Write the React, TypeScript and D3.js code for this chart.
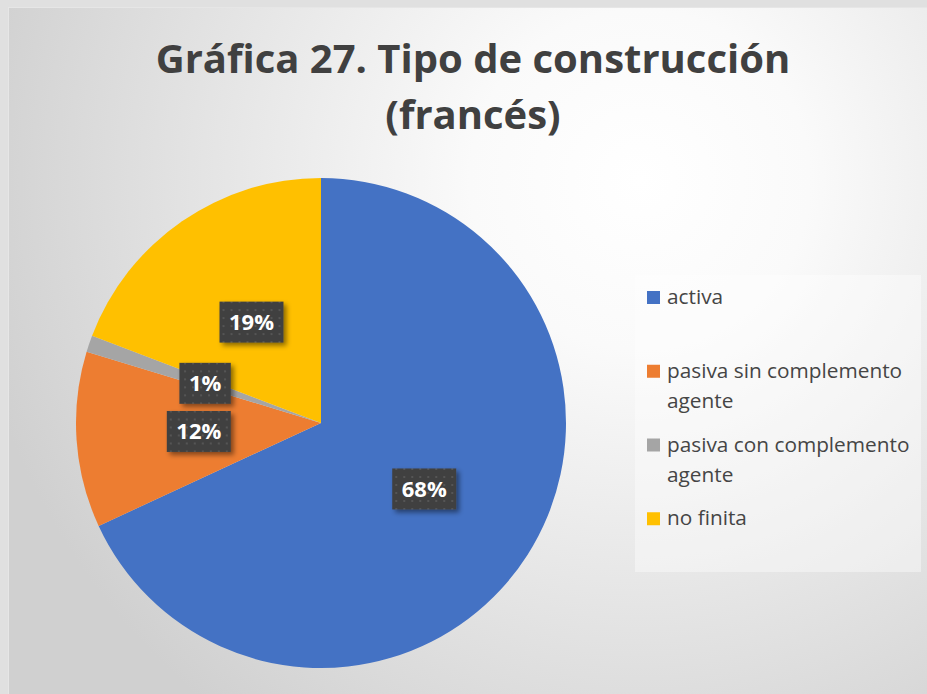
import React, { useRef, useEffect } from 'react';
import * as d3 from 'd3';

// chart data
const categories = ['activa', 'pasiva sin complemento agente', 'pasiva con complemento agente', 'no finita'];
const values = [68.1, 11.6, 1.1, 19.2];
const colors = ['#4472C4', '#ED7D31', '#A5A5A5', '#FFC000'];
const titleLines = ['Gráfica 27. Tipo de construcción', '(francés)'];

const W = 927;
const H = 694;
const FONT = '"Open Sans", "Noto Sans", sans-serif';

const App = () => {
  const svgRef = useRef<SVGSVGElement | null>(null);

  useEffect(() => {
    const svg = d3.select(svgRef.current).attr('width', W).attr('height', H);
    svg.selectAll('*').remove();

    const defs = svg.append('defs');
    const grad = defs
      .append('radialGradient')
      .attr('id', 'bg')
      .attr('gradientUnits', 'userSpaceOnUse')
      .attr('cx', 640)
      .attr('cy', 180)
      .attr('r', 680);
    grad.append('stop').attr('offset', 0).attr('stop-color', '#ffffff');
    grad.append('stop').attr('offset', 0.25).attr('stop-color', '#fafafa');
    grad.append('stop').attr('offset', 1).attr('stop-color', '#d0d0d0');

    const pat = defs
      .append('pattern')
      .attr('id', 'dots')
      .attr('patternUnits', 'userSpaceOnUse')
      .attr('width', 8)
      .attr('height', 8);
    pat.append('rect').attr('width', 8).attr('height', 8).attr('fill', '#404040');
    pat.append('rect').attr('x', 3).attr('y', 3).attr('width', 2).attr('height', 2).attr('fill', '#555555');

    const shadow = defs.append('filter').attr('id', 'shadow').attr('x', '-20%').attr('y', '-20%').attr('width', '150%').attr('height', '160%');
    shadow
      .append('feDropShadow')
      .attr('dx', 3)
      .attr('dy', 3)
      .attr('stdDeviation', 2.5)
      .attr('flood-color', '#000')
      .attr('flood-opacity', 0.45);

    // page + chart area
    svg.append('rect').attr('width', W).attr('height', H).attr('fill', '#e0e0e0');
    svg
      .append('rect')
      .attr('x', 8.5)
      .attr('y', 7.5)
      .attr('width', W)
      .attr('height', H)
      .attr('fill', 'url(#bg)')
      .attr('stroke', '#e6e6e6');

    // title
    svg
      .append('g')
      .selectAll('text')
      .data(titleLines)
      .join('text')
      .attr('x', 473)
      .attr('y', (d, i) => 73 + i * 56)
      .attr('text-anchor', 'middle')
      .attr('font-family', FONT)
      .attr('font-weight', 'bold')
      .attr('font-size', 40)
      .attr('fill', '#404040')
      .text((d) => d);

    // pie
    const cx = 321;
    const cy = 423;
    const R = 245;
    const pie = d3.pie<number>().sort(null).value((d) => d);
    const arcs = pie(values);
    const arc = d3.arc<d3.PieArcDatum<number>>().innerRadius(0).outerRadius(R);

    const g = svg.append('g').attr('transform', `translate(${cx},${cy})`);
    g.selectAll('path')
      .data(arcs)
      .join('path')
      .attr('d', arc)
      .attr('fill', (d, i) => colors[i]);

    // data labels
    const labels = g.selectAll('g.lbl').data(arcs).join('g').attr('class', 'lbl');
    labels.each(function (d) {
      const [lx, ly] = arc.centroid(d);
      const lg = d3.select(this).attr('transform', `translate(${lx},${ly})`);
      const rect = lg.append('rect').attr('fill', 'url(#dots)').attr('filter', 'url(#shadow)');
      const t = lg
        .append('text')
        .attr('text-anchor', 'middle')
        .attr('dy', '0.36em')
        .attr('font-family', FONT)
        .attr('font-weight', 'bold')
        .attr('font-size', 22)
        .attr('fill', '#ffffff')
        .text(`${Math.round(d.data)}%`);
      const tw = (t.node() as SVGTextElement).getComputedTextLength();
      const bw = tw + 19;
      const bh = 41;
      rect.attr('x', -bw / 2).attr('y', -bh / 2).attr('width', bw).attr('height', bh);
    });

    // legend
    const lx0 = 635;
    const ly0 = 275;
    svg
      .append('rect')
      .attr('x', lx0)
      .attr('y', ly0)
      .attr('width', 286)
      .attr('height', 297)
      .attr('fill', '#ffffff')
      .attr('fill-opacity', 0.4);

    const yLeg = d3.scaleBand<string>().domain(categories).range([280, 575]);
    const maxW = 248;
    const leg = svg.append('g').selectAll('g').data(categories).join('g');
    leg.each(function (d, i) {
      const item = d3.select(this);
      const y0 = (yLeg(d) ?? 0) + 24;
      item
        .append('rect')
        .attr('x', 647)
        .attr('y', y0 - 13)
        .attr('width', 13)
        .attr('height', 13)
        .attr('fill', colors[i]);
      const t = item
        .append('text')
        .attr('font-family', FONT)
        .attr('font-size', 20.8)
        .attr('fill', '#454545');
      // word wrap
      const words = d.split(' ');
      let line: string[] = [];
      let n = 0;
      let ts = t.append('tspan').attr('x', 667).attr('y', y0);
      words.forEach((w) => {
        line.push(w);
        ts.text(line.join(' '));
        if ((ts.node() as SVGTSpanElement).getComputedTextLength() > maxW && line.length > 1) {
          line.pop();
          ts.text(line.join(' '));
          line = [w];
          n += 1;
          ts = t.append('tspan').attr('x', 667).attr('y', y0 + n * 30).text(w);
        }
      });
    });
  }, []);

  return (
    <div style={{ position: 'fixed', left: 0, top: 0, width: W, height: H, overflow: 'hidden' }}>
      <svg ref={svgRef} style={{ display: 'block' }}></svg>
    </div>
  );
};

export default App;
